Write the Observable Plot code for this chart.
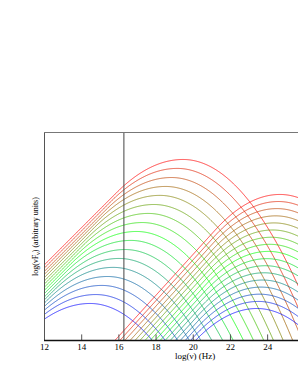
<!DOCTYPE html>
<html><head><meta charset="utf-8">
<script src="https://cdn.jsdelivr.net/npm/d3@7"></script>
<script src="https://cdn.jsdelivr.net/npm/@observablehq/plot@0.6"></script>
<style>html,body{margin:0;padding:0;background:#fff;}svg{display:block}</style>
</head><body><div id="chart"></div>
<script>
// Synchrotron bumps: peak log(nu) and peak level (arbitrary units), blue -> red
const synchPeakLogNu = [14.45,14.76,15.08,15.39,15.70,16.01,16.33,16.64,16.95,17.26,17.58,17.89,18.20,18.51,18.83,19.14,19.45];
const synchPeakLevel = [1.99,2.47,2.96,3.44,3.93,4.41,4.89,5.38,5.86,6.34,6.83,7.31,7.80,8.28,8.76,9.25,9.73];
// Inverse Compton bumps
const icPeakLogNu = [23.42,23.50,23.57,23.65,23.73,23.81,23.88,23.96,24.04,24.12,24.19,24.27,24.35,24.43,24.50,24.58,24.66];
const icPeakLevel = [1.72,2.10,2.49,2.87,3.25,3.64,4.02,4.40,4.79,5.17,5.55,5.94,6.32,6.70,7.09,7.47,7.85];
const xTicks = [12,14,16,18,20,22,24];
const cutLogNu = 16.27;
const xDomain = [12, 25.66];
const yDomain = [0, 11.18];

// shape: curvature left/right of the peak, power-law slope of the low-frequency tail
const synchShape = {bl: 0.1395, br: 0.177, s: 1.0};
const icShape = {bl: 0.158, br: 0.177, s: 1.1};
function drop(d, sh) {
  if (d >= 0) return sh.br * d * d;
  const a = -d, dj = sh.s / (2 * sh.bl);
  if (a <= dj) return sh.bl * a * a;
  return sh.bl * dj * dj + sh.s * (a - dj);
}
const grid = d3.range(xDomain[0], xDomain[1] + 0.02, 0.02);
const n = synchPeakLogNu.length;
const rows = [];
function addCurves(peaks, levels, sh, kind) {
  peaks.forEach((xp, i) => {
    for (const x of grid) rows.push({kind, i, key: kind + i, x, y: levels[i] - drop(x - xp, sh)});
  });
}
addCurves(synchPeakLogNu, synchPeakLevel, synchShape, "s");
addCurves(icPeakLogNu, icPeakLevel, icShape, "c");
const colorOf = d3.piecewise(d3.interpolateRgb, ["#0000ff", "#00ff00", "#ff0000"]);

const chart = Plot.plot({
  width: 298, height: 385,
  marginLeft: 44, marginRight: 0, marginTop: 132, marginBottom: 45,
  x: {domain: xDomain},
  y: {domain: yDomain, axis: null},
  style: {fontFamily: "'Liberation Serif', serif", fontSize: "9px", color: "#000", background: "#fff"},
  marks: [
    Plot.line(rows, {x: "x", y: "y", z: "key", stroke: d => colorOf(d.i / (n - 1)), strokeWidth: 1, strokeOpacity: 0.75, clip: true, curve: "linear"}),
    Plot.ruleX([cutLogNu], {stroke: "#444", strokeWidth: 1}),
    Plot.ruleX([xDomain[0]], {stroke: "#555", strokeWidth: 1}),
    Plot.ruleY([yDomain[1]], {stroke: "#777", strokeWidth: 1}),
    Plot.ruleX(xTicks.slice(1), {x: d => d, y1: 0, y2: 0.3, stroke: "#555", strokeWidth: 1}),
    Plot.ruleY([0], {stroke: "#111", strokeWidth: 1.5}),
    Plot.axisX(xTicks, {tickSize: 0, tickPadding: 3, label: null, fontSize: 9}),
    Plot.text(["log(ν) (Hz)"], {x: 20.1, y: 0, dy: 16, fontSize: 9, clip: false}),
    Plot.text(["YLABEL"], {x: 12, y: (yDomain[0] + yDomain[1]) / 2, dx: -9, rotate: -90, fontSize: 8, clip: false})
  ]
});
document.getElementById("chart").appendChild(chart);
// rich text for the y label (subscript nu)
for (const t of chart.querySelectorAll("text")) {
  if (t.textContent === "YLABEL") {
    t.innerHTML = 'log(νF<tspan dy="2" font-size="6">ν</tspan><tspan dy="-2">) (arbitrary units)</tspan>';
  }
}
</script></body></html>
